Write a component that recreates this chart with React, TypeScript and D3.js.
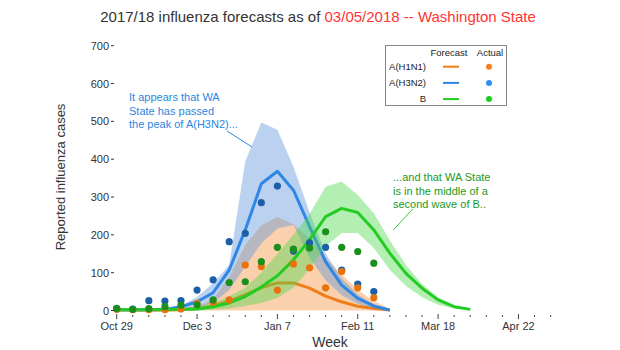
import React from "react";
import * as d3 from "d3";

// weekly data, week 0 = Oct 29 2017
const tickWeeks = [0, 5, 10, 15, 20, 25];
const tickLabels = ["Oct 29", "Dec 3", "Jan 7", "Feb 11", "Mar 18", "Apr 22"];
const yTicks = [0, 100, 200, 300, 400, 500, 600, 700];

// observed counts (weeks 0..16)
const h1n1Actual = [3, 2, 2, 2, 4, 19, 22, 28, 120, 116, 54, 123, 113, 60, 103, 60, 34];
const h3n2Actual = [6, 4, 26, 25, 26, 54, 81, 182, 204, 285, 329, 157, 179, 167, 107, 70, 50];
const bActual = [5, 3, 5, 10, 14, 15, 28, 74, 76, 129, 167, 162, 165, 208, 167, 156, 125];

// forecasts (median + band)
const h1n1Fc = [1, 1, 1, 1, 2, 5, 12, 25, 42, 60, 73, 73, 59, 38, 23, 11, 5, 1];
const h1n1Lo = [0, 0, 0, 0, 0, 0, 0, 0, 0, 0, 0, 0, 0, 0, 0, 0, 0, 0];
const h1n1Hi = [2, 2, 2, 3, 5, 10, 30, 89, 173, 225, 247, 228, 190, 140, 95, 55, 25, 5];

const h3n2Fc = [2, 2, 2, 3, 10, 23, 47, 107, 213, 335, 368, 318, 222, 129, 67, 32, 12, 1];
const h3n2Lo = [0, 0, 0, 0, 2, 8, 20, 54, 116, 178, 217, 226, 140, 80, 40, 18, 6, 0];
const h3n2Hi = [2, 2, 3, 5, 12, 36, 72, 120, 394, 497, 478, 380, 260, 150, 85, 42, 16, 3];

const bFc = [2, 2, 2, 2, 3, 4, 10, 20, 37, 62, 92, 134, 187, 248, 270, 259, 213, 151, 98, 59, 28, 10, 3];
const bLo = [0, 0, 0, 0, 0, 0, 2, 5, 12, 20, 33, 60, 110, 170, 205, 205, 165, 107, 65, 35, 15, 5, 1];
const bHi = [3, 3, 3, 4, 6, 10, 20, 38, 60, 100, 150, 200, 255, 327, 341, 305, 257, 185, 120, 70, 35, 14, 4];

const series = [
  { name: "A(H1N1)", fc: h1n1Fc, lo: h1n1Lo, hi: h1n1Hi, obs: h1n1Actual, line: "#ef7d1a", band: "#f28e3c", dot: "#e8730c", legendDot: "#f08020" },
  { name: "A(H3N2)", fc: h3n2Fc, lo: h3n2Lo, hi: h3n2Hi, obs: h3n2Actual, line: "#2f86e6", band: "#5a94d8", dot: "#1d5fa6", legendDot: "#2e8ff0" },
  { name: "B", fc: bFc, lo: bLo, hi: bHi, obs: bActual, line: "#22cc22", band: "#4ad84a", dot: "#1a8f1a", legendDot: "#1ccc1c" },
];

const font = "'Liberation Sans', Arial, sans-serif";

export default function App() {
  const x = d3.scaleLinear().domain([0, 27]).range([116.7, 550.6]);
  const y = d3.scaleLinear().domain([0, 700]).range([310.5, 45.7]);

  const line = d3
    .line<number>()
    .x((_, i) => x(i))
    .y((d) => y(d));

  const allWeeks = d3.range(0, 28);

  return (
    <svg width={620} height={350} style={{ position: "absolute", left: 0, top: 0 }} fontFamily={font}>
      <rect width={620} height={350} fill="white" />

      {/* title */}
      <text x={318} y={22} textAnchor="middle" fontSize={15} fill="#333">
        2017/18 influenza forecasts as of <tspan fill="#ff3333">03/05/2018 -- Washington State</tspan>
      </text>

      {/* bands + forecast lines */}
      {series.map((s) => {
        const band = d3
          .area<number>()
          .x((_, i) => x(i))
          .y0((_, i) => y(s.lo[i]))
          .y1((d) => y(d));
        return (
          <g key={s.name}>
            <path d={band(s.hi) || ""} fill={s.band} fillOpacity={0.42} stroke="none" />
            <path d={line(s.fc) || ""} fill="none" stroke={s.line} strokeWidth={3} strokeLinejoin="round" />
          </g>
        );
      })}

      {/* observed points */}
      {[series[1], series[0], series[2]].map((s) => (
        <g key={s.name + "obs"}>
          {s.obs.map((v, i) => (
            <circle key={i} cx={x(i)} cy={y(v)} r={3.6} fill={s.dot} />
          ))}
        </g>
      ))}

      {/* y axis */}
      <g fontSize={11} fill="#333">
        {yTicks.map((t) => (
          <g key={t}>
            <text x={109} y={y(t) + 4} textAnchor="end">{t}</text>
            <line x1={111} x2={114} y1={y(t)} y2={y(t)} stroke="#333" />
          </g>
        ))}
      </g>
      <text transform="translate(65,177) rotate(-90)" textAnchor="middle" fontSize={13} fill="#333">
        Reported influenza cases
      </text>

      {/* x axis */}
      <g>
        {allWeeks.map((w) => (
          <line
            key={w}
            x1={x(w)}
            x2={x(w)}
            y1={tickWeeks.includes(w) ? 314 : 315}
            y2={tickWeeks.includes(w) ? 319 : 317}
            stroke="#444"
          />
        ))}
        {tickWeeks.map((w, i) => (
          <text key={w} x={x(w)} y={330} textAnchor="middle" fontSize={11} fill="#333">
            {tickLabels[i]}
          </text>
        ))}
      </g>
      <text x={330} y={347} textAnchor="middle" fontSize={14} fill="#333">Week</text>

      {/* legend */}
      <g fontSize={9.5} fill="#222">
        <rect x={385.5} y={45.5} width={121} height={60} fill="white" stroke="#888" />
        <text x={449} y={56} textAnchor="middle">Forecast</text>
        <text x={490} y={56} textAnchor="middle">Actual</text>
        {series.map((s, i) => (
          <g key={s.name + "leg"}>
            <text x={426} y={70 + i * 16.2} textAnchor="end">{s.name}</text>
            <line x1={443} x2={459} y1={66.7 + i * 16.2} y2={66.7 + i * 16.2} stroke={s.line} strokeWidth={2} />
            <circle cx={489} cy={66.7 + i * 16.2} r={3} fill={s.legendDot} />
          </g>
        ))}
      </g>

      {/* annotations */}
      <g fontSize={11} fill="#2a86e0">
        <text x={129} y={101}>It appears that WA</text>
        <text x={129} y={114.5}>State has passed</text>
        <text x={129} y={128}>the peak of A(H3N2)...</text>
      </g>
      <line x1={227} y1={131} x2={252} y2={147} stroke="#2a86e0" />
      <g fontSize={11} fill="#229922">
        <text x={393} y={181}>...and that WA State</text>
        <text x={393} y={194.5}>is in the middle of a</text>
        <text x={393} y={208}>second wave of B..</text>
      </g>
      <line x1={412.7} y1={209} x2={393.3} y2={230} stroke="#33cc33" />
    </svg>
  );
}
